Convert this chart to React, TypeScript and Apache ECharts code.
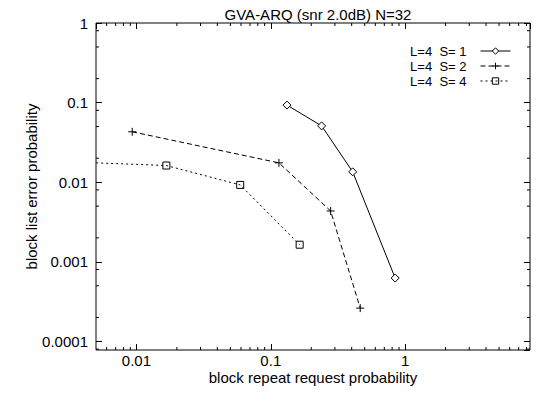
import React, { useEffect, useRef } from 'react';
import * as echarts from 'echarts';

const titleText = 'GVA-ARQ (snr 2.0dB) N=32';
const xAxisName = 'block repeat request probability';
const yAxisName = 'block list error probability';
const seriesNames = ['L=4  S= 1', 'L=4  S= 2', 'L=4  S= 4'];

// S=1 (diamonds, solid)
const s1X = [0.132, 0.239, 0.407, 0.843];
const s1Y = [0.093, 0.051, 0.0135, 0.000625];
// S=2 (plus, dashed)
const s2X = [0.0093, 0.115, 0.279, 0.463];
const s2Y = [0.043, 0.0175, 0.00435, 0.000262];
// S=4 (squares, dotted) - first point lies left of the visible range
const s4X = [0.003, 0.0167, 0.0592, 0.164];
const s4Y = [0.0181, 0.0162, 0.00925, 0.00164];

const xMin = 0.005;
const xMax = 8.5;
const yMin = 0.000078;
const yMax = 1;

const xDecades = [0.001, 0.01, 0.1, 1];
const yDecades = [0.00001, 0.0001, 0.001, 0.01, 0.1];
const xMinorMultipliers = [2, 3, 4, 5, 6, 7, 8, 9];
const yMinorMultipliers = [2, 5, 8];

const FONT = "'Liberation Sans', Arial, Helvetica, sans-serif";

function isPow10(v: number) {
  const l = Math.log10(v);
  return Math.abs(l - Math.round(l)) < 1e-6;
}
function fmt(v: number) {
  if (!isPow10(v)) return '';
  const e = Math.round(Math.log10(v));
  if (e >= 0) return String(Math.pow(10, e));
  return Math.pow(10, e).toFixed(-e);
}

export default function App() {
  const ref = useRef<HTMLDivElement>(null);
  useEffect(() => {
    if (!ref.current) return;
    const chart = echarts.init(ref.current, undefined, { renderer: 'svg' });

    const xMinor: number[][] = [];
    xDecades.forEach((d) =>
      xMinorMultipliers.forEach((m) => {
        const v = d * m;
        if (v > xMin && v < xMax) xMinor.push([v, yMin]);
      })
    );
    const yMinor: number[][] = [];
    yDecades.forEach((d) =>
      yMinorMultipliers.forEach((m) => {
        const v = d * m;
        if (v > yMin && v < yMax) yMinor.push([xMin, v]);
      })
    );

    const lineCommon = {
      type: 'line' as const,
      xAxisIndex: 0,
      yAxisIndex: 0,
      clip: true,
      showAllSymbol: true,
    };

    const axisTickStyle = { inside: true, length: 6, lineStyle: { color: '#000', width: 1 } };

    chart.setOption({
      animation: false,
      backgroundColor: '#fff',
      textStyle: { fontFamily: FONT },
      title: {
        text: titleText,
        left: 313,
        textAlign: 'center',
        top: 2,
        textStyle: { fontFamily: FONT, fontSize: 15, fontWeight: 'normal', color: '#000' },
      },
      legend: {
        data: seriesNames,
        orient: 'vertical',
        right: 21,
        top: 39.5,
        align: 'right',
        itemWidth: 30,
        itemHeight: 8,
        itemGap: 2,
        lineStyle: { width: 1, color: '#000' },
        itemStyle: { borderWidth: 1, borderColor: '#000' },
        textStyle: { fontFamily: FONT, fontSize: 13, color: '#000', padding: [0, 9, 0, 0] },
      },
      grid: {
        left: 96,
        right: 7,
        top: 23,
        bottom: 43,
        show: true,
        borderColor: '#000',
        borderWidth: 1,
        backgroundColor: 'transparent',
        outerBoundsMode: 'none',
        containLabel: false,
      },
      xAxis: [
        {
          type: 'log',
          min: xMin,
          max: xMax,
          position: 'bottom',
          name: xAxisName,
          nameLocation: 'middle',
          nameGap: 20,
          nameMoveOverlap: false,
          nameTextStyle: { fontFamily: FONT, fontSize: 15, color: '#000' },
          axisLine: { show: false },
          axisTick: axisTickStyle,
          splitLine: { show: false },
          axisLabel: {
            formatter: fmt,
            margin: 3,
            fontFamily: FONT,
            fontSize: 15,
            color: '#000',
            showMinLabel: false,
            showMaxLabel: false,
          },
        },
        {
          type: 'log',
          min: xMin,
          max: xMax,
          position: 'top',
          axisLine: { show: false },
          axisTick: axisTickStyle,
          splitLine: { show: false },
          axisLabel: { show: false },
        },
      ],
      yAxis: [
        {
          type: 'log',
          min: yMin,
          max: yMax,
          position: 'left',
          name: yAxisName,
          nameLocation: 'middle',
          nameGap: 57,
          nameMoveOverlap: false,
          nameTextStyle: { fontFamily: FONT, fontSize: 15, color: '#000' },
          axisLine: { show: false },
          axisTick: axisTickStyle,
          splitLine: { show: false },
          axisLabel: {
            formatter: fmt,
            margin: 8,
            fontFamily: FONT,
            fontSize: 15,
            color: '#000',
            showMinLabel: false,
          },
        },
        {
          type: 'log',
          min: yMin,
          max: yMax,
          position: 'right',
          axisLine: { show: false },
          axisTick: axisTickStyle,
          splitLine: { show: false },
          axisLabel: { show: false },
        },
      ],
      series: [
        {
          ...lineCommon,
          name: seriesNames[0],
          data: s1X.map((x, i) => [x, s1Y[i]]),
          symbol: 'diamond',
          symbolSize: 8,
          itemStyle: { color: '#fff', borderColor: '#000', borderWidth: 1 },
          lineStyle: { color: '#000', width: 1, type: 'solid' },
        },
        {
          ...lineCommon,
          name: seriesNames[1],
          data: s2X.map((x, i) => [x, s2Y[i]]),
          symbol: 'path://M0,5H10M5,0V10',
          symbolSize: 8,
          itemStyle: { color: 'none', borderColor: '#000', borderWidth: 1 },
          lineStyle: { color: '#000', width: 1, type: [5, 3] },
        },
        {
          ...lineCommon,
          name: seriesNames[2],
          data: s4X.map((x, i) => [x, s4Y[i]]),
          symbol: 'rect',
          symbolSize: 7,
          itemStyle: { color: 'none', borderColor: '#000', borderWidth: 1 },
          lineStyle: { color: '#000', width: 1, type: [2, 3] },
        },
        {
          type: 'custom',
          name: 'xminor',
          silent: true,
          data: xMinor,
          renderItem: (params: any, api: any) => {
            const v = api.value(0);
            const b = api.coord([v, yMin]);
            const t = api.coord([v, yMax]);
            return {
              type: 'group',
              children: [
                { type: 'line', shape: { x1: b[0], y1: b[1], x2: b[0], y2: b[1] - 3 }, style: { stroke: '#000', lineWidth: 1 } },
                { type: 'line', shape: { x1: t[0], y1: t[1], x2: t[0], y2: t[1] + 3 }, style: { stroke: '#000', lineWidth: 1 } },
              ],
            };
          },
        },
        {
          type: 'custom',
          name: 'yminor',
          silent: true,
          data: yMinor,
          renderItem: (params: any, api: any) => {
            const v = api.value(1);
            const l = api.coord([xMin, v]);
            const r = api.coord([xMax, v]);
            return {
              type: 'group',
              children: [
                { type: 'line', shape: { x1: l[0], y1: l[1], x2: l[0] + 3, y2: l[1] }, style: { stroke: '#000', lineWidth: 1 } },
                { type: 'line', shape: { x1: r[0], y1: r[1], x2: r[0] - 3, y2: r[1] }, style: { stroke: '#000', lineWidth: 1 } },
              ],
            };
          },
        },
      ],
    });
    return () => chart.dispose();
  }, []);
  return <div ref={ref} style={{ width: 537, height: 393, position: 'absolute', left: 0, top: 0 }} />;
}
